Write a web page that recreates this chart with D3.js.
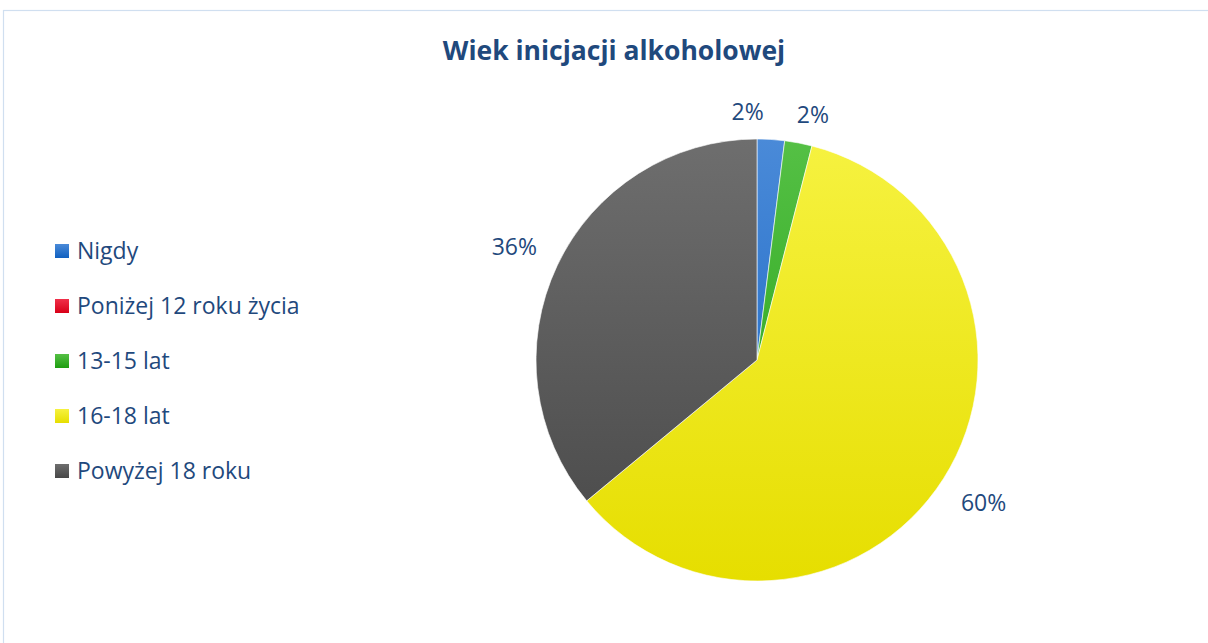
<!DOCTYPE html>
<html>
<head>
<meta charset="utf-8">
<script src="https://cdn.jsdelivr.net/npm/d3@7"></script>
<style>
  body { margin: 0; background: #fff; }
  svg { display: block; font-family: "Open Sans", "Noto Sans", sans-serif; }
</style>
</head>
<body>
<svg width="1208" height="643"></svg>
<script>
// Data
const categories = ["Nigdy", "Poniżej 12 roku życia", "13-15 lat", "16-18 lat", "Powyżej 18 roku"];
const values = [2, 0, 2, 60, 36];
const topColors = ["#4a8ad8", "#f0304a", "#55c045", "#f6f240", "#6e6e6e"];
const bottomColors = ["#1060c0", "#d80018", "#1e9e10", "#e6de00", "#474747"];

const textColor = "#1f497d";
const svg = d3.select("svg");

// frame
svg.append("rect")
  .attr("x", 3.5).attr("y", 10.5)
  .attr("width", 1220).attr("height", 650)
  .attr("fill", "none")
  .attr("stroke", "#d0dff0")
  .attr("stroke-width", 1.2);

// title
svg.append("text")
  .attr("x", 614).attr("y", 60)
  .attr("text-anchor", "middle")
  .attr("fill", textColor)
  .style("font-size", "26.5px")
  .style("font-weight", "bold")
  .text("Wiek inicjacji alkoholowej");

// gradients (vertical, lighter at the top)
const defs = svg.append("defs");
const cx = 757, cy = 360, r = 221;
categories.forEach((c, i) => {
  const g = defs.append("linearGradient")
    .attr("id", "grad" + i)
    .attr("gradientUnits", "userSpaceOnUse")
    .attr("x1", 0).attr("y1", -r).attr("x2", 0).attr("y2", r);
  g.append("stop").attr("offset", "0%").attr("stop-color", topColors[i]);
  g.append("stop").attr("offset", "100%").attr("stop-color", bottomColors[i]);
  const lg = defs.append("linearGradient")
    .attr("id", "legGrad" + i)
    .attr("x1", 0).attr("y1", 0).attr("x2", 0).attr("y2", 1);
  lg.append("stop").attr("offset", "0%").attr("stop-color", topColors[i]);
  lg.append("stop").attr("offset", "100%").attr("stop-color", bottomColors[i]);
});

const pie = d3.pie().sort(null).value(d => d.value);
const arcs = pie(categories.map((c, i) => ({ name: c, value: values[i], i })));
const arc = d3.arc().innerRadius(0).outerRadius(r);

const g = svg.append("g").attr("transform", `translate(${cx},${cy})`);
g.selectAll("path")
  .data(arcs.filter(d => d.data.value > 0))
  .enter().append("path")
  .attr("d", arc)
  .attr("fill", d => `url(#grad${d.data.i})`)
  .attr("stroke", "#fff")
  .attr("stroke-width", 0.6);

// labels
const labelArc = d3.arc().innerRadius(266).outerRadius(266);
const nudge = { 0: [-26, 17], 2: [6, 16], 3: [2, 0], 4: [-2, 0] };
g.selectAll("text.lbl")
  .data(arcs.filter(d => d.data.value > 0))
  .enter().append("text")
  .attr("class", "lbl")
  .attr("transform", d => {
    const [x, y] = labelArc.centroid(d);
    const n = nudge[d.data.i] || [0, 0];
    return `translate(${x + n[0]},${y + n[1]})`;
  })
  .attr("text-anchor", "middle")
  .attr("dy", "0.35em")
  .attr("fill", textColor)
  .style("font-size", "23px")
  .text(d => d.data.value + "%");

// legend
const legend = svg.append("g");
const rowY = d3.scalePoint().domain(categories).range([251, 471]);
categories.forEach((c, i) => {
  const y = rowY(c);
  legend.append("rect")
    .attr("x", 55).attr("y", y - 7)
    .attr("width", 14).attr("height", 14)
    .attr("fill", `url(#legGrad${i})`);
  legend.append("text")
    .attr("x", 77).attr("y", y)
    .attr("dy", "0.35em")
    .attr("fill", textColor)
    .style("font-size", "23px")
    .text(c);
});
</script>
</body>
</html>
